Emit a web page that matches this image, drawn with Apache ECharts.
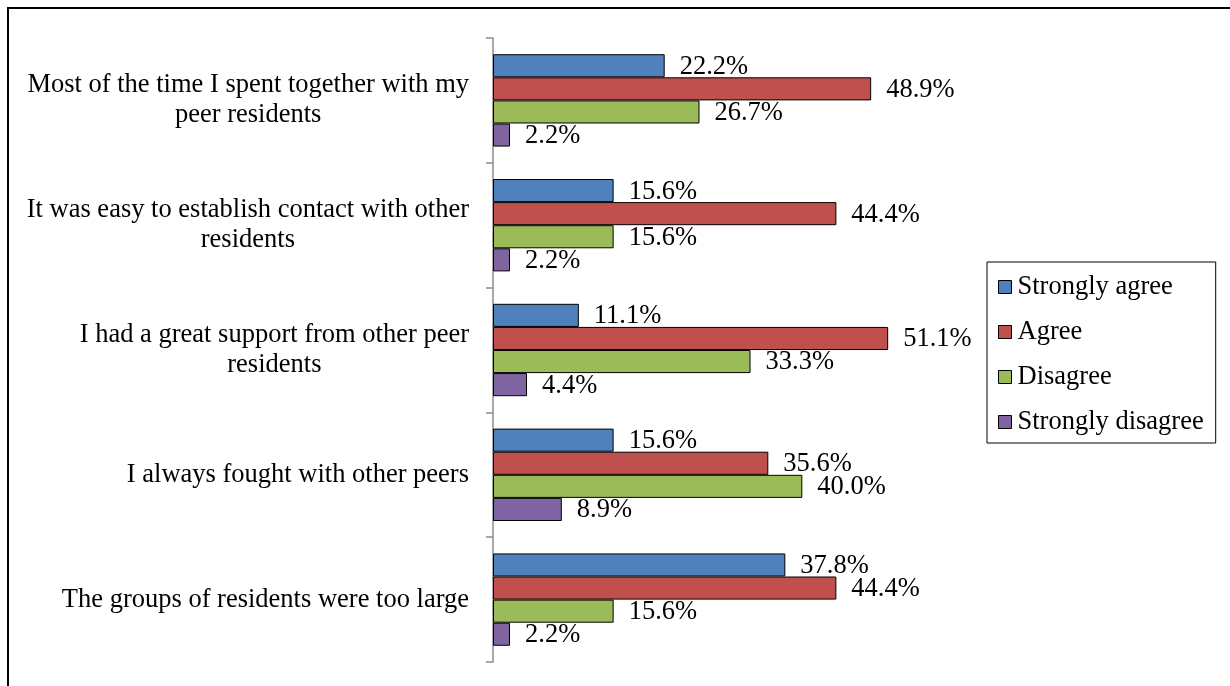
<!DOCTYPE html>
<html>
<head>
<meta charset="utf-8">
<script src="https://cdn.jsdelivr.net/npm/echarts@6/dist/echarts.min.js"></script>
<style>
  html, body { margin: 0; padding: 0; background: #fff; }
  #chart { width: 1230px; height: 686px; }
</style>
</head>
<body>
<div id="chart"></div>
<script>
  // categories (line breaks as in the original labels)
  const categories = [
    'Most of the time I spent together with my\npeer residents',
    'It was easy to establish contact with other\nresidents',
    'I had a great support from other peer\nresidents',
    'I always fought with other peers',
    'The groups of residents were too large'
  ];
  const seriesNames = ['Strongly agree', 'Agree', 'Disagree', 'Strongly disagree'];
  const stronglyAgree = [22.2, 15.6, 11.1, 15.6, 37.8];
  const agree = [48.9, 44.4, 51.1, 35.6, 44.4];
  const disagree = [26.7, 15.6, 33.3, 40.0, 15.6];
  const stronglyDisagree = [2.2, 2.2, 4.4, 8.9, 2.2];
  const colors = ['#4F81BD', '#C0504D', '#9BBB59', '#8064A2'];

  const font = '"Liberation Serif", "Times New Roman", serif';
  const chart = echarts.init(document.getElementById('chart'));

  const values = [stronglyAgree, agree, disagree, stronglyDisagree];
  const series = values.map(function (arr, i) {
    return {
      name: seriesNames[i],
      type: 'bar',
      data: arr,
      barGap: '0%',
      barCategoryGap: '26%',
      itemStyle: {
        color: colors[i],
        borderColor: '#000',
        borderWidth: 1
      },
      label: {
        show: true,
        position: 'right',
        distance: 15,
        offset: [0, 1],
        color: '#000',
        fontFamily: font,
        fontSize: 26.5,
        formatter: function (p) { return p.value.toFixed(1) + '%'; }
      }
    };
  });

  const option = {
    animation: false,
    backgroundColor: '#fff',
    graphic: [{
      type: 'rect',
      shape: { x: 8, y: 8, width: 1400, height: 900 },
      style: { fill: 'none', stroke: '#000', lineWidth: 2 },
      silent: true
    }],
    legend: {
      orient: 'vertical',
      left: 987,
      top: 262,
      padding: [10, 12, 6, 11],
      borderColor: '#000',
      borderWidth: 1,
      itemWidth: 13,
      itemHeight: 13,
      itemGap: 15,
      icon: 'rect',
      itemStyle: { borderColor: '#000', borderWidth: 1 },
      textStyle: {
        color: '#000',
        fontFamily: font,
        fontSize: 26.5,
        lineHeight: 30,
        padding: [0, 0, 0, 1]
      },
      data: seriesNames
    },
    grid: {
      left: 493,
      top: 38,
      width: 464,
      height: 624,
      containLabel: false
    },
    xAxis: {
      type: 'value',
      min: 0,
      max: 60,
      show: false
    },
    yAxis: {
      type: 'category',
      inverse: true,
      data: categories,
      axisLine: { show: true, lineStyle: { color: '#8c8c8c', width: 1.5 } },
      axisTick: { show: true, length: 7, lineStyle: { color: '#8c8c8c', width: 1.5 } },
      axisLabel: {
        margin: 24,
        align: 'right',
        formatter: function (v) { return '{c|' + v.split('\n').join('}\n{c|') + '}'; },
        rich: {
          c: {
            align: 'center',
            color: '#000',
            fontFamily: font,
            fontSize: 26.5,
            lineHeight: 30
          }
        }
      }
    },
    series: series
  };

  chart.setOption(option);
  window.addEventListener('resize', function () {
    chart.resize();
  });
</script>
</body>
</html>
